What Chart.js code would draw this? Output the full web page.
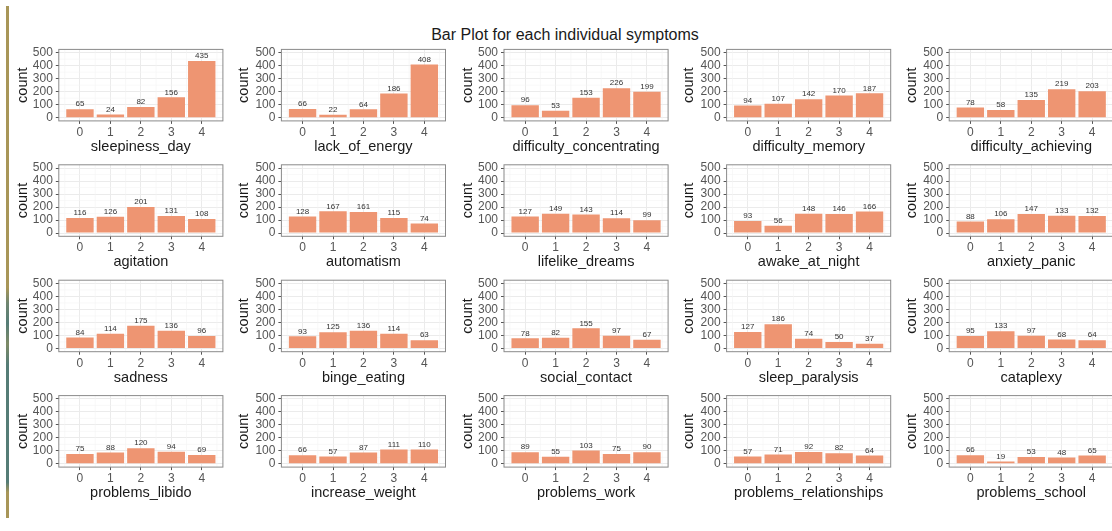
<!DOCTYPE html>
<html>
<head>
<meta charset="utf-8">
<script src="https://cdn.jsdelivr.net/npm/chart.js@4.4.1/dist/chart.umd.min.js"></script>
<style>
  html, body { margin: 0; padding: 0; background: #fff; overflow: hidden; }
  body { width: 1112px; height: 531px; position: relative; font-family: "Liberation Sans", Arial, sans-serif; }
  #title { position: absolute; top: 26px; left: 565px; transform: translateX(-50%); font-size: 16px; color: #1a1a1a; white-space: nowrap; }
  #edge { position: absolute; left: 6px; top: 6px; width: 3px; height: 512px;
    background: linear-gradient(to bottom, #a89658 0%, #a89658 55%, #6f8570 58%, #557c76 62%, #7e8a66 66%, #557c76 70%, #557c76 93%, #a89658 95%, #a89658 100%); }
  canvas { position: absolute; }
</style>
</head>
<body>
<div id="edge"></div>
<div id="title">Bar Plot for each individual symptoms</div>
<script>
const FONT = "'Liberation Sans', Arial, sans-serif";

// response levels and axis breaks
const levels = [0, 1, 2, 3, 4];
const yTicks = [0, 100, 200, 300, 400, 500];
const yMinor = [50, 150, 250, 350, 450];
const xMinor = [-0.5, 0.5, 1.5, 2.5, 3.5, 4.5];

// counts per level for every symptom
const sleepinessDay = [65, 24, 82, 156, 435];
const lackOfEnergy = [66, 22, 64, 186, 408];
const difficultyConcentrating = [96, 53, 153, 226, 199];
const difficultyMemory = [94, 107, 142, 170, 187];
const difficultyAchieving = [78, 58, 135, 219, 203];
const agitation = [116, 126, 201, 131, 108];
const automatism = [128, 167, 161, 115, 74];
const lifelikeDreams = [127, 149, 143, 114, 99];
const awakeAtNight = [93, 56, 148, 146, 166];
const anxietyPanic = [88, 106, 147, 133, 132];
const sadness = [84, 114, 175, 136, 96];
const bingeEating = [93, 125, 136, 114, 63];
const socialContact = [78, 82, 155, 97, 67];
const sleepParalysis = [127, 186, 74, 50, 37];
const cataplexy = [95, 133, 97, 68, 64];
const problemsLibido = [75, 88, 120, 94, 69];
const increaseWeight = [66, 57, 87, 111, 110];
const problemsWork = [89, 55, 103, 75, 90];
const problemsRelationships = [57, 71, 92, 82, 64];
const problemsSchool = [66, 19, 53, 48, 65];

const symptoms = [
  ['sleepiness_day', sleepinessDay],
  ['lack_of_energy', lackOfEnergy],
  ['difficulty_concentrating', difficultyConcentrating],
  ['difficulty_memory', difficultyMemory],
  ['difficulty_achieving', difficultyAchieving],
  ['agitation', agitation],
  ['automatism', automatism],
  ['lifelike_dreams', lifelikeDreams],
  ['awake_at_night', awakeAtNight],
  ['anxiety_panic', anxietyPanic],
  ['sadness', sadness],
  ['binge_eating', bingeEating],
  ['social_contact', socialContact],
  ['sleep_paralysis', sleepParalysis],
  ['cataplexy', cataplexy],
  ['problems_libido', problemsLibido],
  ['increase_weight', increaseWeight],
  ['problems_work', problemsWork],
  ['problems_relationships', problemsRelationships],
  ['problems_school', problemsSchool]
];

// facet grid geometry
const COLS = 5;
const colStep = 222.6, rowStep = 115.4;
const plotLeft0 = 58.8, plotTop0 = 49.4;
const plotW = 164.1, plotH = 71.5;
const xAxisH = 36;

// light minor grid, panel border and count labels
const panelDecor = {
  id: 'panelDecor',
  beforeDatasetsDraw(chart) {
    const { ctx, chartArea: a, scales: { x, y } } = chart;
    ctx.save();
    ctx.strokeStyle = '#f4f4f4';
    ctx.lineWidth = 0.6;
    ctx.beginPath();
    xMinor.forEach(v => {
      const px = x.getPixelForValue(v);
      ctx.moveTo(px, a.top); ctx.lineTo(px, a.bottom);
    });
    yMinor.forEach(v => {
      const py = y.getPixelForValue(v);
      ctx.moveTo(a.left, py); ctx.lineTo(a.right, py);
    });
    ctx.stroke();
    ctx.restore();
  },
  afterDatasetsDraw(chart) {
    const { ctx, chartArea: a } = chart;
    const values = chart.data.datasets[0].data;
    ctx.save();
    ctx.fillStyle = '#333';
    ctx.font = '8px ' + FONT;
    ctx.textAlign = 'center';
    ctx.textBaseline = 'middle';
    chart.getDatasetMeta(0).data.forEach((bar, i) => {
      ctx.fillText(values[i], bar.x, bar.y - 5);
    });
    ctx.strokeStyle = '#8a8a8a';
    ctx.lineWidth = 1;
    ctx.strokeRect(a.left, a.top, a.right - a.left, a.bottom - a.top);
    ctx.restore();
  }
};

symptoms.forEach(([name, counts], idx) => {
  const col = idx % COLS, row = Math.floor(idx / COLS);
  const px = plotLeft0 + col * colStep;
  const py = plotTop0 + row * rowStep;
  const left = Math.floor(col * colStep);
  const top = Math.floor(py) - 30;
  const yW = px - left;
  const padTop = py - top;
  const w = 226, h = Math.ceil(padTop + plotH + xAxisH);

  const canvas = document.createElement('canvas');
  canvas.width = w; canvas.height = h;
  canvas.style.left = left + 'px';
  canvas.style.top = top + 'px';
  document.body.appendChild(canvas);

  new Chart(canvas, {
    type: 'bar',
    data: {
      labels: levels,
      datasets: [{
        data: counts,
        backgroundColor: '#EE9572',
        borderWidth: 0,
        barPercentage: 0.9,
        categoryPercentage: 1
      }]
    },
    options: {
      responsive: false,
      animation: false,
      layout: { padding: { left: 0, top: padTop, right: w - yW - plotW, bottom: h - padTop - plotH - xAxisH } },
      plugins: { legend: { display: false }, tooltip: { enabled: false } },
      scales: {
        x: {
          type: 'linear',
          offset: false,
          min: -0.695,
          max: 4.695,
          afterBuildTicks: s => { s.ticks = levels.map(v => ({ value: v })); },
          afterFit: s => { s.height = xAxisH; },
          grid: { offset: false, color: '#ebebeb', lineWidth: 1, tickLength: 3, tickColor: '#555', tickWidth: 1 },
          border: { display: false },
          ticks: { color: '#555', font: { size: 12, family: FONT }, padding: 1.5, maxRotation: 0, autoSkip: false },
          title: { display: true, text: name, color: '#1a1a1a', font: { size: 14.5, family: FONT }, padding: { top: 0, bottom: 1.3 } }
        },
        y: {
          min: -25,
          max: 525,
          afterBuildTicks: s => { s.ticks = yTicks.map(v => ({ value: v })); },
          afterFit: s => { s.width = yW; },
          grid: { color: '#ebebeb', lineWidth: 1, tickLength: 3, tickColor: '#555', tickWidth: 1 },
          border: { display: false },
          ticks: { color: '#555', font: { size: 12, family: FONT }, padding: 3, autoSkip: false },
          title: { display: true, text: 'count', color: '#1a1a1a', font: { size: 14.5, family: FONT }, padding: { top: 14 - (px - left - plotLeft0), bottom: 0 } }
        }
      }
    },
    plugins: [panelDecor]
  });
});
</script>
</body>
</html>
